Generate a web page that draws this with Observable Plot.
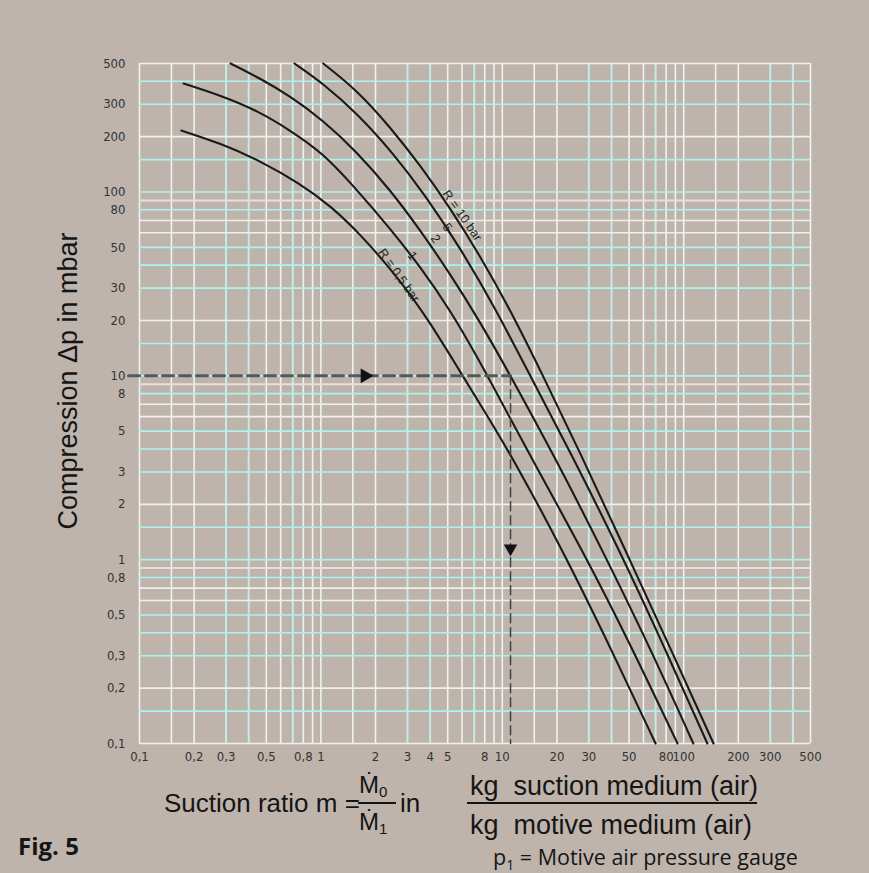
<!DOCTYPE html>
<html>
<head>
<meta charset="utf-8">
<script src="https://cdn.jsdelivr.net/npm/d3@7"></script>
<script src="https://cdn.jsdelivr.net/npm/@observablehq/plot@0.6"></script>
<style>
  html, body { margin: 0; padding: 0; background: #beb4ac; }
  #wrap { position: relative; width: 869px; height: 873px; overflow: hidden; background: #beb4ac; }
  #chart { position: absolute; left: 0; top: 0; }
  .t { position: absolute; white-space: nowrap; font-family: "Liberation Sans", Arial, sans-serif; color: #151515; line-height: 1; }
</style>
</head>
<body>
<div id="wrap">
  <div id="chart"></div>
  <div class="t" style="left:68px; top:381px; font-size:27px; transform: translate(-50%,-50%) rotate(-90deg);">Compression Δp in mbar</div>
  <div class="t" style="left:164px; top:790px; font-size:26px;">Suction ratio m =</div>
  <div class="t" style="left:359px; top:773px; font-size:24px;">Ṁ<span style="font-size:15px;position:relative;top:4px;">0</span></div>
  <div style="position:absolute; left:358px; top:802px; width:38px; height:2px; background:#151515;"></div>
  <div class="t" style="left:359px; top:810px; font-size:24px;">Ṁ<span style="font-size:15px;position:relative;top:4px;">1</span></div>
  <div class="t" style="left:400px; top:790px; font-size:26px;">in</div>
  <div class="t" style="left:470px; top:773px; font-size:27px;">kg&nbsp; suction medium (air)</div>
  <div style="position:absolute; left:467px; top:802px; width:290px; height:2px; background:#151515;"></div>
  <div class="t" style="left:470px; top:812px; font-size:27px;">kg&nbsp; motive medium (air)</div>
  <div class="t" style="left:18px; top:834px; font-size:24px; font-weight:bold; font-family:'Open Sans', sans-serif;">Fig. 5</div>
  <div class="t" style="left:493px; top:846px; font-size:21.5px; font-family:'Open Sans', sans-serif;">p<span style="font-size:14px;position:relative;top:5px;">1</span> = Motive air pressure gauge</div>
</div>
<script>
// ---- data (m = suction ratio, dp = compression in mbar) ----
const p05 = [[0.17,216],[0.28,184],[0.46,148],[0.77,111],[1.13,84],[1.65,59],[2.75,33],[4.0,19.5],[5.7,11],[8.6,5.7],[12.6,3.0],[21.8,1.09],[34.8,0.43],[70,0.1]];
const p1  = [[0.175,389],[0.28,335],[0.447,277],[0.68,216],[1.03,162],[1.51,108],[2.42,63],[3.54,39],[5.18,22.7],[7.98,10.8],[14.3,3.64],[27.7,1.12],[50.9,0.345],[92.4,0.1]];
const p2  = [[0.3175,500],[0.4645,414],[0.68,331],[1.03,245],[1.59,164],[2.42,102],[3.54,61.7],[5.18,35.6],[7.58,19.5],[11.1,10],[19.65,3.55],[35.7,1.12],[65.6,0.328],[113,0.1]];
const p5  = [[0.715,500],[1.03,389],[1.59,267],[2.51,162],[3.77,95.7],[5.89,49.3],[9.17,23.2],[13.95,10.4],[23.8,3.82],[43.7,1.15],[74.5,0.372],[135,0.1]];
const p10 = [[1.03,500],[1.59,356],[2.42,224],[3.54,139],[5.18,81.3],[7.58,44.6],[11.1,22.65],[16.24,10.68],[27,3.78],[47.8,1.12],[84.6,0.328],[146,0.1]];
const seriesNames = ["0.5","1","2","5","10"];
const seriesData = [p05, p1, p2, p5, p10];

const xTicks = [0.1,0.2,0.3,0.5,0.8,1,2,3,4,5,8,10,20,30,50,80,100,200,300,500];
const yTicks = [0.1,0.2,0.3,0.5,0.8,1,2,3,5,8,10,20,30,50,80,100,200,300,500];
const gridWhite = [0.1,0.2,0.6,0.7,2,6,7,20,60,70,200,500];
const gridCyan  = [0.15,0.3,0.4,0.5,0.8,1,1.5,3,4,5,8,10,15,30,40,50,80,100,150,300,400];
const gridPink  = [0.9,9,90];
const xGrid = [0.1,0.15,0.2,0.3,0.4,0.5,0.6,0.7,0.8,0.9,1,1.5,2,3,4,5,6,7,8,9,10,15,20,30,40,50,60,70,80,90,100,150,200,300,400,500];
const xGridCyan = [0.3,0.4,0.7,3,4,7,30,40,70,300,400];

// worked example (dashed guide) and arrow positions
const guideH = [[0.087,10],[11.1,10]];
const guideV = [[11.1,10],[11.1,0.1]];
const arrowsH = [[1.75,10]];
const arrowsV = [[11.1,1.15]];

// curve labels
const labels = [
  {m:2.69, dp:35.2, text:"R = 0,5 bar"},
  {m:3.19, dp:45,   text:"1"},
  {m:4.28, dp:55.6, text:"2"},
  {m:4.97, dp:64.3, text:"5"},
  {m:6.01, dp:74.5, text:"R = 10 bar"}
];

const curves = seriesData.flatMap((arr, i) => arr.map(([m, dp]) => ({m, dp, s: seriesNames[i]})));
const fmt = v => String(v).replace(".", ",");
const tickFont = "'Liberation Sans Narrow','DejaVu Sans Condensed',sans-serif";

const chart = Plot.plot({
  width: 869,
  height: 873,
  marginLeft: 139,
  marginRight: 59,
  marginTop: 63,
  marginBottom: 130,
  style: {background: "transparent", fontFamily: tickFont},
  x: {type: "log", domain: [0.1, 500], axis: null},
  y: {type: "log", domain: [0.1, 500], axis: null},
  marks: [
    Plot.ruleX(xGrid.filter(v => !xGridCyan.includes(v)), {stroke: "#eef3f1", strokeWidth: 1.6}),
    Plot.ruleX(xGridCyan, {stroke: "#c6ebe6", strokeWidth: 2}),
    Plot.ruleY(gridWhite, {stroke: "#f1efec", strokeWidth: 1.6}),
    Plot.ruleY(gridPink, {stroke: "#e9dedb", strokeWidth: 2}),
    Plot.ruleY(gridCyan, {stroke: "#aef2ec", strokeWidth: 1.6}),
    Plot.text(xTicks, {x: d => d, y: () => 0.1, dy: 13, text: fmt, fontSize: 13, fill: "#333", fontFamily: tickFont}),
    Plot.text(yTicks, {x: () => 0.1, y: d => d, dx: -14, textAnchor: "end", text: fmt, fontSize: 13, fill: "#333", fontFamily: tickFont}),
    Plot.line(curves, {x: "m", y: "dp", z: "s", curve: "basis", stroke: "#1a1a1a", strokeWidth: 2.1}),
    Plot.line(guideH, {x: d => d[0], y: d => d[1], stroke: "#535a5a", strokeWidth: 3, strokeDasharray: "11,6"}),
    Plot.line(guideV, {x: d => d[0], y: d => d[1], stroke: "#3c4242", strokeWidth: 1.5, strokeDasharray: "9,5"}),
    Plot.dot(arrowsH, {x: d => d[0], y: d => d[1], symbol: "triangle", r: 5.5, rotate: 90, fill: "#111", stroke: null}),
    Plot.dot(arrowsV, {x: d => d[0], y: d => d[1], symbol: "triangle", r: 5, rotate: 180, fill: "#111", stroke: null}),
    Plot.text(labels, {x: "m", y: "dp", text: "text", rotate: 55, fontSize: 12.5, fill: "#222", fontFamily: "'Liberation Sans', sans-serif"})
  ]
});
document.getElementById("chart").appendChild(chart);
</script>
</body>
</html>
